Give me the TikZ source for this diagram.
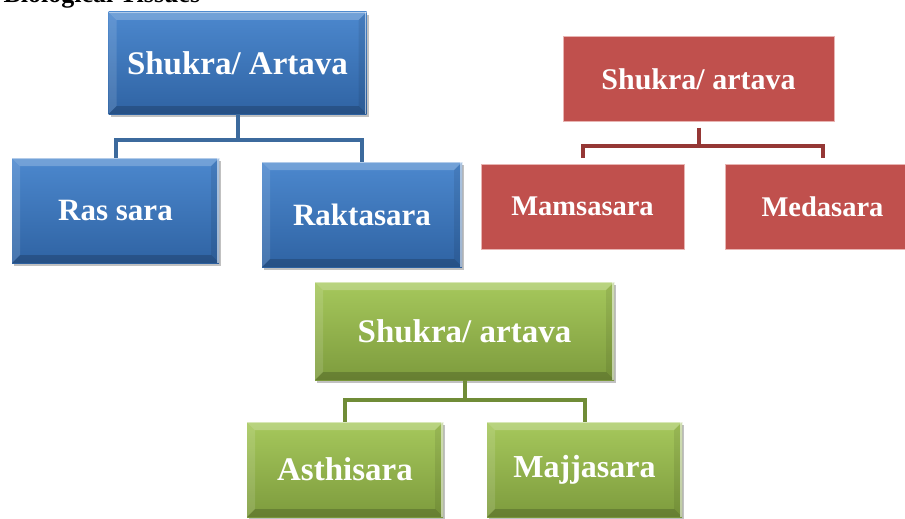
\documentclass[tikz,border=0pt]{standalone}
\usepackage{fontspec}
\setmainfont{Liberation Serif}
\usepackage{xcolor}
\definecolor{bluetop}{HTML}{4C88CE}
\definecolor{bluebot}{HTML}{2F63A3}
\definecolor{bluelink}{HTML}{3C6A9D}
\definecolor{redfill}{HTML}{C0504D}
\definecolor{rededge}{HTML}{E8B4B2}
\definecolor{redlink}{HTML}{953735}
\definecolor{greentop}{HTML}{A6C85C}
\definecolor{greenbot}{HTML}{7D9B3D}
\definecolor{greenlink}{HTML}{708C37}
\usepackage{tikz}
\usetikzlibrary{positioning, calc, shadows}

\tikzset{
  bevel/.style={path picture={
    \coordinate (pnw) at (path picture bounding box.north west);
    \coordinate (pne) at (path picture bounding box.north east);
    \coordinate (psw) at (path picture bounding box.south west);
    \coordinate (pse) at (path picture bounding box.south east);
    \fill[white, opacity=.22] (pnw) -- (pne) -- ([shift={(-8pt,-8pt)}]pne) -- ([shift={(8pt,-8pt)}]pnw) -- cycle;
    \fill[white, opacity=.12] (pnw) -- ([shift={(8pt,-8pt)}]pnw) -- ([shift={(8pt,8pt)}]psw) -- (psw) -- cycle;
    \fill[black, opacity=.18] (psw) -- (pse) -- ([shift={(-8pt,8pt)}]pse) -- ([shift={(8pt,8pt)}]psw) -- cycle;
    \fill[black, opacity=.08] (pne) -- (pse) -- ([shift={(-8pt,8pt)}]pse) -- ([shift={(-8pt,-8pt)}]pne) -- cycle;
    \draw[white, opacity=.55, line width=1.5pt] ([xshift=-1pt]pne) -- ([xshift=-1pt]pse);
    \draw[white, opacity=.45, line width=1pt] ([yshift=-.5pt]pnw) -- ([yshift=-.5pt]pne);
  }},
  boxshadow/.style={drop shadow={shadow xshift=2pt, shadow yshift=-3pt, opacity=.35, fill=black!70}},
  bluebox/.style={rectangle, inner sep=0pt, text=white, top color=bluetop, bottom color=bluebot, bevel, boxshadow},
  redbox/.style={rectangle, inner sep=0pt, text=white, fill=redfill, draw=rededge, line width=1pt},
  greenbox/.style={rectangle, inner sep=0pt, text=white, top color=greentop, bottom color=greenbot, bevel, boxshadow},
  link/.style={line width=4pt, line cap=butt, line join=miter},
}

\begin{document}
\begin{tikzpicture}[x=1pt, y=-1pt]
  \useasboundingbox (0,0) rectangle (905,519);
  \clip (0,0) rectangle (905,519);

  \node[anchor=base west, font=\bfseries\fontsize{26}{28}\selectfont] (title) at (0,3) {Biological Tissues};

  % blue group
  \node[bluebox, minimum width=258pt, minimum height=102pt, font=\bfseries\fontsize{33}{36}\selectfont] (bTop) at (237.5,63) {Shukra/ Artava};
  \node[bluebox, minimum width=207pt, minimum height=105pt, font=\bfseries\fontsize{31}{34}\selectfont] (bRas) at (115.5,210.5) {Ras sara};
  \node[bluebox, minimum width=200pt, minimum height=105pt, font=\bfseries\fontsize{31}{34}\selectfont] (bRak) at (362,214.5) {Raktasara};
  \draw[link, bluelink] (bTop.south) -- ++(0,26) coordinate (bJ);
  \draw[link, bluelink] (bJ) -| (bRas.north);
  \draw[link, bluelink] (bJ) -| (bRak.north);

  % red group
  \node[redbox, minimum width=271pt, minimum height=84pt, font=\bfseries\fontsize{30}{33}\selectfont] (rTop) at (698.5,79) {Shukra/ artava};
  \node[redbox, minimum width=203pt, minimum height=85pt, font=\bfseries\fontsize{28.5}{31}\selectfont] (rMam) at (582.5,206.5) {Mamsasara};
  \node[redbox, minimum width=195pt, minimum height=85pt, font=\bfseries\fontsize{28.5}{31}\selectfont] (rMed) at (822.5,206.5) {Medasara};
  \draw[link, redlink, shorten <=6pt] (rTop.south) -- ++(0,24) coordinate (rJ);
  \draw[link, redlink, shorten >=6pt] (rJ) -| (rMam.north);
  \draw[link, redlink, shorten >=6pt] (rJ) -| (rMed.north);

  % green group
  \node[greenbox, minimum width=299pt, minimum height=98pt, font=\bfseries\fontsize{33}{36}\selectfont] (gTop) at (464.5,331) {Shukra/ artava};
  \node[greenbox, minimum width=196pt, minimum height=95pt, font=\bfseries\fontsize{33}{36}\selectfont] (gAst) at (345,469.5) {Asthisara};
  \node[greenbox, minimum width=195pt, minimum height=95pt, font=\bfseries\fontsize{32}{35}\selectfont] (gMaj) at (584.5,469.5) {Majjasara};
  \draw[link, greenlink] (gTop.south) -- ++(0,20) coordinate (gJ);
  \draw[link, greenlink] (gJ) -| (gAst.north);
  \draw[link, greenlink] (gJ) -| (gMaj.north);
\end{tikzpicture}
\end{document}
